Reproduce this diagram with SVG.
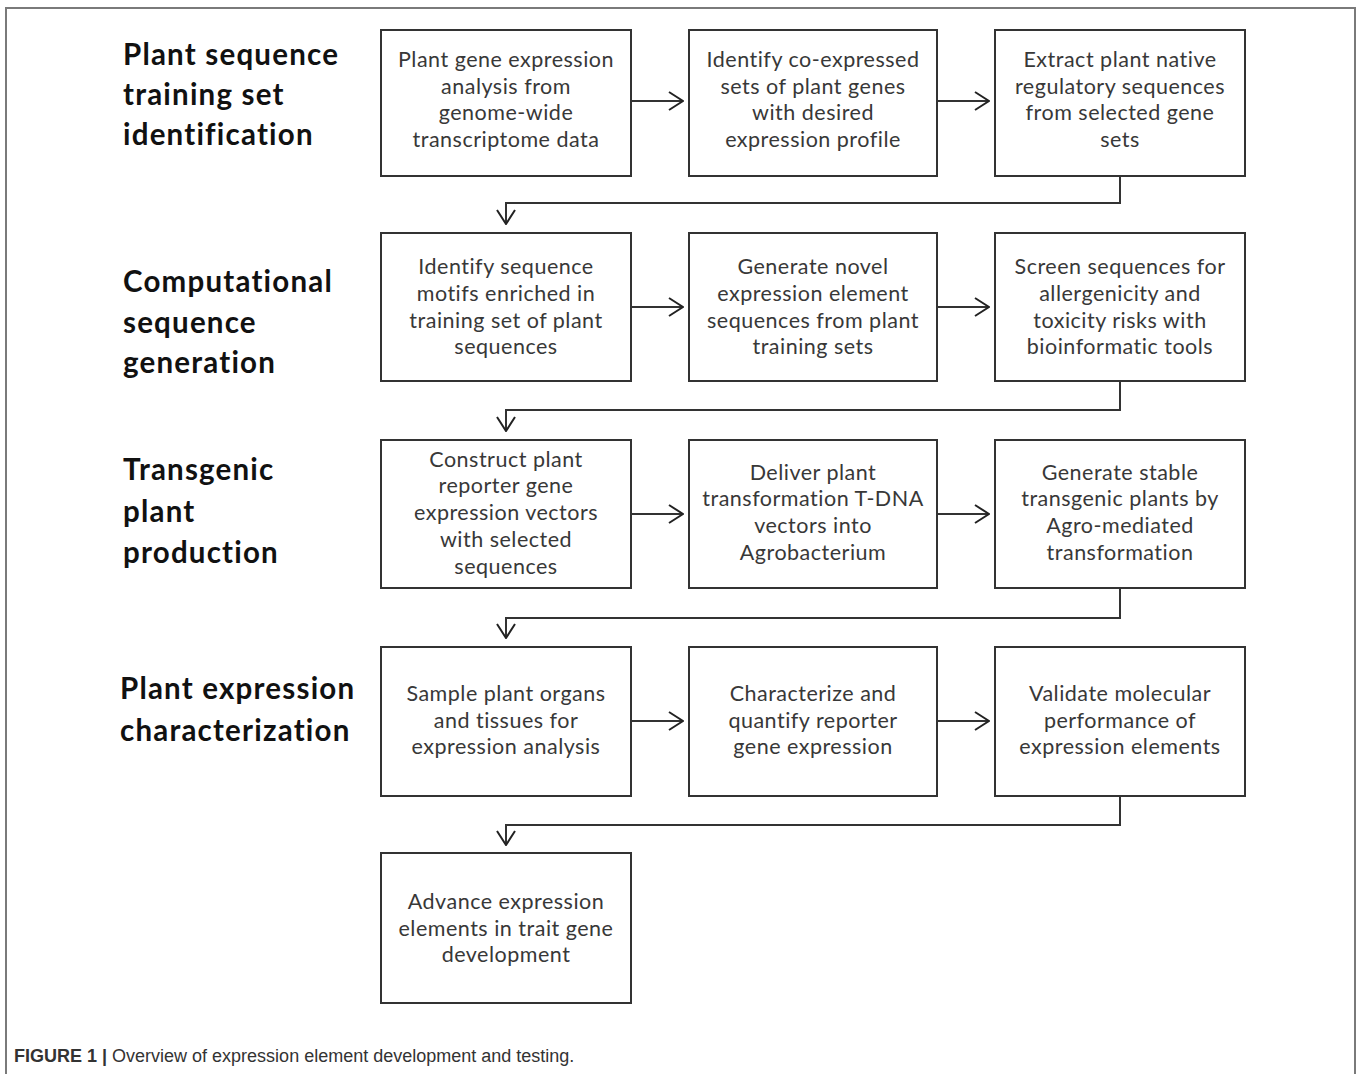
<svg xmlns="http://www.w3.org/2000/svg" width="1358" height="1074" viewBox="0 0 1358 1074">
<style>
.frame{fill:none;stroke:#7a7a7a;stroke-width:2}
.box{fill:#fff;stroke:#333;stroke-width:2}
.bt{font-family:Lato,"Open Sans",sans-serif;font-size:21.5px;letter-spacing:0.5px;fill:#383838;text-anchor:middle}
.hd{font-family:Lato,"Open Sans",sans-serif;font-size:29.5px;letter-spacing:1.2px;font-weight:bold;fill:#111}
.cn{fill:none;stroke:#333;stroke-width:2}
.cap{font-family:"Liberation Sans",Arial,sans-serif;font-size:18px;fill:#333}
</style>
<defs>
<marker id="ah" viewBox="0 0 16 20" refX="15" refY="10" markerWidth="16" markerHeight="20" markerUnits="userSpaceOnUse" orient="auto">
<path d="M1,1 L15,10 L1,19" fill="none" stroke="#222" stroke-width="2"/>
</marker>
</defs>
<rect class="frame" x="6" y="8" width="1349" height="1080"/>
<g id="headings">
<text class="hd" x="123" y="65">Plant sequence</text>
<text class="hd" x="123" y="105">training set</text>
<text class="hd" x="123" y="145">identification</text>
<text class="hd" x="123" y="292">Computational</text>
<text class="hd" x="123" y="333">sequence</text>
<text class="hd" x="123" y="373">generation</text>
<text class="hd" x="123" y="480">Transgenic</text>
<text class="hd" x="123" y="522">plant</text>
<text class="hd" x="123" y="563">production</text>
<text class="hd" x="120" y="699">Plant expression</text>
<text class="hd" x="120" y="741">characterization</text>
</g>
<g id="connectors">
<line class="cn" x1="631" y1="101" x2="683" y2="101" marker-end="url(#ah)"/>
<line class="cn" x1="937" y1="101" x2="989" y2="101" marker-end="url(#ah)"/>
<line class="cn" x1="631" y1="307" x2="683" y2="307" marker-end="url(#ah)"/>
<line class="cn" x1="937" y1="307" x2="989" y2="307" marker-end="url(#ah)"/>
<line class="cn" x1="631" y1="514" x2="683" y2="514" marker-end="url(#ah)"/>
<line class="cn" x1="937" y1="514" x2="989" y2="514" marker-end="url(#ah)"/>
<line class="cn" x1="631" y1="721" x2="683" y2="721" marker-end="url(#ah)"/>
<line class="cn" x1="937" y1="721" x2="989" y2="721" marker-end="url(#ah)"/>
<polyline class="cn" points="1120,176 1120,203 506,203 506,224" marker-end="url(#ah)"/>
<polyline class="cn" points="1120,381 1120,410 506,410 506,431" marker-end="url(#ah)"/>
<polyline class="cn" points="1120,588 1120,618 506,618 506,638" marker-end="url(#ah)"/>
<polyline class="cn" points="1120,796 1120,825 506,825 506,845" marker-end="url(#ah)"/>
</g>
<g id="n1"><rect class="box" x="381" y="30" width="250" height="146"/>
<text class="bt" x="506" y="67">Plant gene expression</text><text class="bt" x="506" y="94">analysis from</text><text class="bt" x="506" y="120">genome-wide</text><text class="bt" x="506" y="147">transcriptome data</text></g>
<g id="n2"><rect class="box" x="689" y="30" width="248" height="146"/>
<text class="bt" x="813" y="67">Identify co-expressed</text><text class="bt" x="813" y="94">sets of plant genes</text><text class="bt" x="813" y="120">with desired</text><text class="bt" x="813" y="147">expression profile</text></g>
<g id="n3"><rect class="box" x="995" y="30" width="250" height="146"/>
<text class="bt" x="1120" y="67">Extract plant native</text><text class="bt" x="1120" y="94">regulatory sequences</text><text class="bt" x="1120" y="120">from selected gene</text><text class="bt" x="1120" y="147">sets</text></g>
<g id="n4"><rect class="box" x="381" y="233" width="250" height="148"/>
<text class="bt" x="506" y="274">Identify sequence</text><text class="bt" x="506" y="301">motifs enriched in</text><text class="bt" x="506" y="328">training set of plant</text><text class="bt" x="506" y="354">sequences</text></g>
<g id="n5"><rect class="box" x="689" y="233" width="248" height="148"/>
<text class="bt" x="813" y="274">Generate novel</text><text class="bt" x="813" y="301">expression element</text><text class="bt" x="813" y="328">sequences from plant</text><text class="bt" x="813" y="354">training sets</text></g>
<g id="n6"><rect class="box" x="995" y="233" width="250" height="148"/>
<text class="bt" x="1120" y="274">Screen sequences for</text><text class="bt" x="1120" y="301">allergenicity and</text><text class="bt" x="1120" y="328">toxicity risks with</text><text class="bt" x="1120" y="354">bioinformatic tools</text></g>
<g id="n7"><rect class="box" x="381" y="440" width="250" height="148"/>
<text class="bt" x="506" y="467">Construct plant</text><text class="bt" x="506" y="493">reporter gene</text><text class="bt" x="506" y="520">expression vectors</text><text class="bt" x="506" y="547">with selected</text><text class="bt" x="506" y="574">sequences</text></g>
<g id="n8"><rect class="box" x="689" y="440" width="248" height="148"/>
<text class="bt" x="813" y="480">Deliver plant</text><text class="bt" x="813" y="506">transformation T-DNA</text><text class="bt" x="813" y="533">vectors into</text><text class="bt" x="813" y="560">Agrobacterium</text></g>
<g id="n9"><rect class="box" x="995" y="440" width="250" height="148"/>
<text class="bt" x="1120" y="480">Generate stable</text><text class="bt" x="1120" y="506">transgenic plants by</text><text class="bt" x="1120" y="533">Agro-mediated</text><text class="bt" x="1120" y="560">transformation</text></g>
<g id="n10"><rect class="box" x="381" y="647" width="250" height="149"/>
<text class="bt" x="506" y="701">Sample plant organs</text><text class="bt" x="506" y="728">and tissues for</text><text class="bt" x="506" y="754">expression analysis</text></g>
<g id="n11"><rect class="box" x="689" y="647" width="248" height="149"/>
<text class="bt" x="813" y="701">Characterize and</text><text class="bt" x="813" y="728">quantify reporter</text><text class="bt" x="813" y="754">gene expression</text></g>
<g id="n12"><rect class="box" x="995" y="647" width="250" height="149"/>
<text class="bt" x="1120" y="701">Validate molecular</text><text class="bt" x="1120" y="728">performance of</text><text class="bt" x="1120" y="754">expression elements</text></g>
<g id="n13"><rect class="box" x="381" y="853" width="250" height="150"/>
<text class="bt" x="506" y="909">Advance expression</text><text class="bt" x="506" y="936">elements in trait gene</text><text class="bt" x="506" y="962">development</text></g>
<text class="cap" x="14" y="1062"><tspan font-weight="bold">FIGURE 1 |</tspan> Overview of expression element development and testing.</text>
</svg>
